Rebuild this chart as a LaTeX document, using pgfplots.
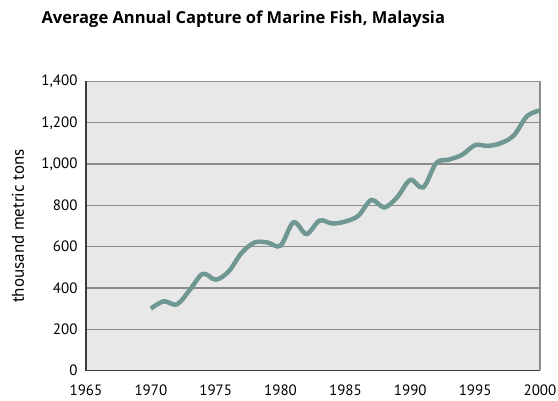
\documentclass[border=0pt]{standalone}
\usepackage{pgfplots}
\pgfplotsset{compat=1.18}
\usepackage{fontspec}
\setmainfont{PT Sans}
\newfontfamily\titlefont{Open Sans}
\definecolor{linec}{RGB}{112,152,146}
\definecolor{bgc}{RGB}{232,232,232}
\definecolor{gridc}{RGB}{140,140,140}
\definecolor{axc}{RGB}{60,60,60}
\begin{document}
\begin{tikzpicture}[x=1pt,y=1pt]
\useasboundingbox (0,0) rectangle (558,401);
\node[anchor=west,font=\titlefont\bfseries\fontsize{16.5}{18}\selectfont] at (38,382) {Average Annual Capture of Marine Fish, Malaysia};
\node[rotate=90,font=\fontsize{17}{19}\selectfont] at (18,175) {thousand metric tons};
\begin{axis}[
  at={(86pt,30.5pt)}, anchor=south west,
  scale only axis, width=454pt, height=289pt,
  xmin=1965, xmax=2000, ymin=0, ymax=1400,
  xtick={1965,1970,...,2000}, ytick={0,200,...,1400},
  major tick length=0pt,
  axis background/.style={fill=bgc},
  ymajorgrids, grid style={gridc, line width=1.3pt},
  axis line style={draw=none},
  x tick label style={font=\fontsize{15}{17}\selectfont, yshift=-11pt},
  y tick label style={font=\fontsize{15}{17}\selectfont, xshift=-5pt},
  /pgf/number format/assume math mode=true,
  /pgf/number format/1000 sep={,},
  xticklabel style={/pgf/number format/1000 sep={}},
  clip=false,
]
\draw[gridc, line width=1.3pt] (axis cs:2000,0) -- (axis cs:2000,1400);
\draw[axc, line width=1.6pt] (axis cs:1965,1400) -- (axis cs:1965,0) -- (axis cs:2000,0);
\addplot[linec, line width=4.5pt, smooth, tension=0.55] coordinates {
(1970,300) (1971,335) (1972,320) (1973,390) (1974,468) (1975,440)
(1976,480) (1977,570) (1978,620) (1979,620) (1980,605) (1981,718)
(1982,661) (1983,726) (1984,712) (1985,722) (1986,750) (1987,826)
(1988,790) (1989,840) (1990,923) (1991,887) (1992,1005) (1993,1022)
(1994,1045) (1995,1092) (1996,1088) (1997,1102) (1998,1140) (1999,1232) (2000,1260)
};
\end{axis}
\end{tikzpicture}
\end{document}
